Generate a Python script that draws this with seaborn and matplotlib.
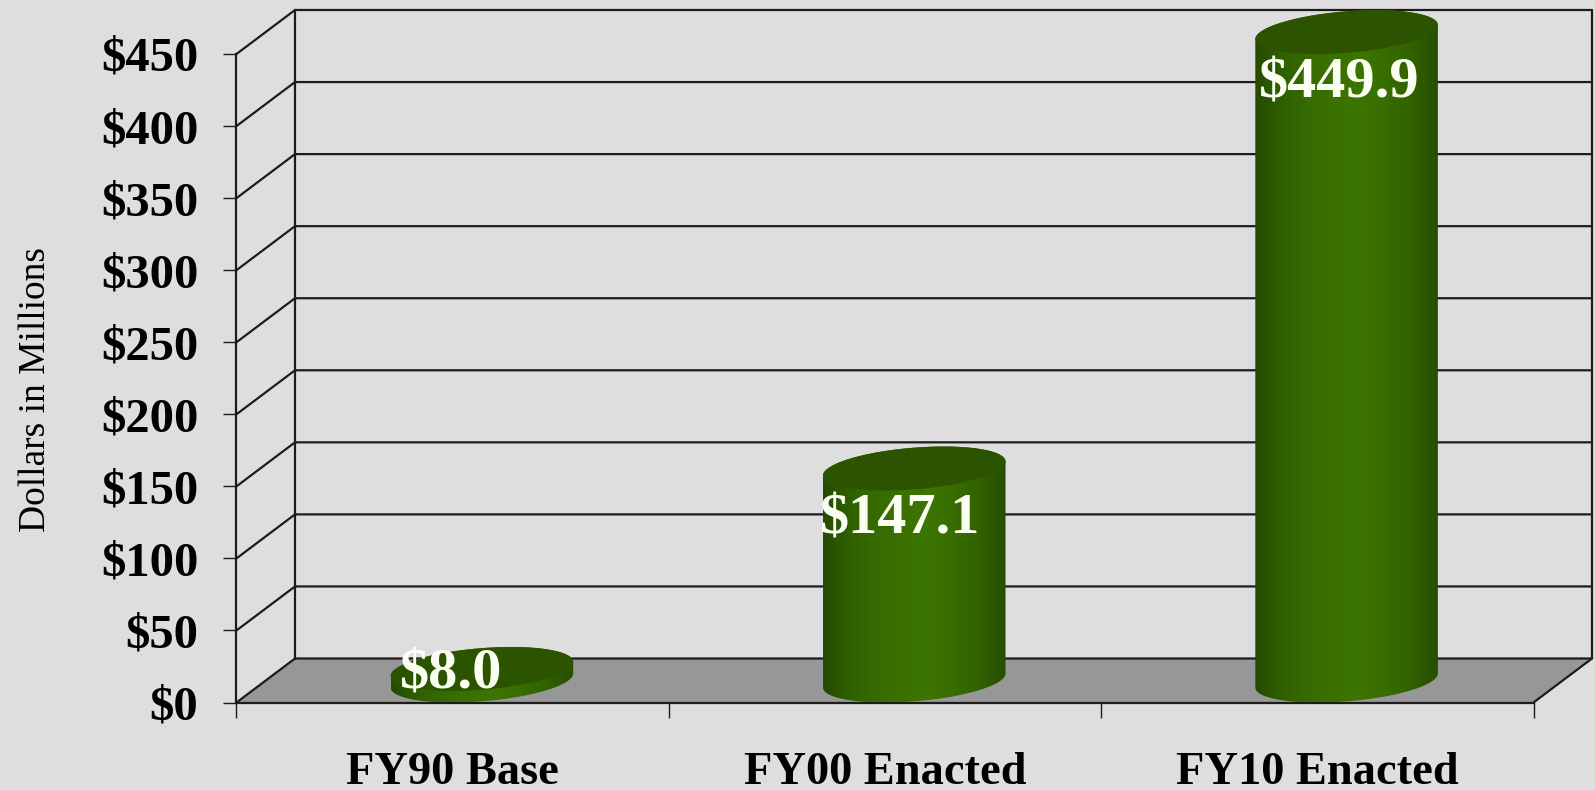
import numpy as np
import pandas as pd
import matplotlib
matplotlib.use('Agg')
import matplotlib.pyplot as plt
from matplotlib.colors import LinearSegmentedColormap
from matplotlib.patches import Polygon
import seaborn as sns

# chart data
years = ['FY90 Base', 'FY00 Enacted', 'FY10 Enacted']
funding = [8.0, 147.1, 449.9]
value_labels = ['$8.0', '$147.1', '$449.9']
y_ticks = [0, 50, 100, 150, 200, 250, 300, 350, 400, 450]
y_tick_labels = ['$0', '$50', '$100', '$150', '$200', '$250', '$300', '$350', '$400', '$450']

sns.set_theme(style='white')
plt.rcParams['font.family'] = ['Liberation Serif', 'DejaVu Serif']

bg_color = '#dedede'
line_color = '#1c1c1c'
line_w = 1.6
fig = plt.figure(figsize=(15.95, 7.90), dpi=100, facecolor=bg_color)
ax = fig.add_axes([236.5 / 1595, 87.5 / 790, 1297 / 1595, 648.5 / 790], facecolor='none')

plot_df = pd.DataFrame({'year': years, 'funding': funding})
sns.barplot(data=plot_df, x='year', y='funding', width=0.4, color='#3a7000', ax=ax)
ax.set_xlim(-0.5, 2.5)
ax.set_ylim(0, 450)

# 3d box depth, in data units
depth_x = 58.5 / (1297 / 3)
depth_y = 44 / (648.5 / 450)
x0, x1 = -0.5, 2.5

# floor and walls
ax.add_patch(Polygon([(x0, 0), (x1, 0), (x1 + depth_x, depth_y), (x0 + depth_x, depth_y)],
                     closed=True, facecolor='#979797', edgecolor='none', clip_on=False, zorder=1))
for tick in y_ticks:
    ax.plot([x0, x0 + depth_x, x1 + depth_x], [tick, tick + depth_y, tick + depth_y],
            color=line_color, lw=line_w, clip_on=False, zorder=2, solid_joinstyle='miter')
ax.plot([x0 + depth_x, x0 + depth_x], [depth_y, 450 + depth_y],
        color=line_color, lw=line_w, clip_on=False, zorder=2)
ax.plot([x1, x1 + depth_x, x1 + depth_x], [0, depth_y, 450 + depth_y],
        color=line_color, lw=line_w, clip_on=False, zorder=2)

# cylinders drawn on the positions the bars got from seaborn
body_cmap = LinearSegmentedColormap.from_list(
    'body', ['#264b00', '#305f00', '#366b00', '#3a7100', '#3c7500', '#386d00', '#326200', '#264d00'])
gradient = np.linspace(0, 1, 256).reshape(1, -1)
t = np.linspace(0, 2 * np.pi, 361)
half_w = 0.2
half_full = np.hypot(half_w, depth_x / 2)
t_edge = np.arctan2(depth_x / 2, half_w)

for bar, label, shift_x, shift_y in zip(ax.patches, value_labels, [-2, 15, 22], [16, -29, -29]):
    front_x = bar.get_x() + bar.get_width() / 2
    value = bar.get_height()
    bar.set_visible(False)
    cx = front_x + depth_x / 2

    # outline of the body, lower half of the base ellipse + upper half of the top ellipse
    t_low = np.linspace(t_edge + np.pi, t_edge + 2 * np.pi, 120)
    t_up = np.linspace(t_edge, t_edge + np.pi, 120)
    low_pts = np.column_stack([cx + half_w * np.cos(t_low) + depth_x / 2 * np.sin(t_low),
                               depth_y / 2 + depth_y / 2 * np.sin(t_low)])
    up_pts = np.column_stack([cx + half_w * np.cos(t_up) + depth_x / 2 * np.sin(t_up),
                              value + depth_y / 2 + depth_y / 2 * np.sin(t_up)])
    outline = Polygon(np.vstack([low_pts, up_pts]), closed=True, transform=ax.transData)

    img = ax.imshow(gradient, cmap=body_cmap, aspect='auto', interpolation='bilinear',
                    extent=[cx - half_full, cx + half_full, 0, value + depth_y],
                    zorder=3)
    img.set_clip_box(fig.bbox)
    img.set_clip_path(outline)

    # lid
    lid = np.column_stack([cx + half_w * np.cos(t) + depth_x / 2 * np.sin(t),
                           value + depth_y / 2 + depth_y / 2 * np.sin(t)])
    ax.add_patch(Polygon(lid, closed=True, facecolor='#2c5400', edgecolor='none',
                         clip_on=False, zorder=4))

    ax.annotate(label, xy=(front_x, value), xytext=(shift_x * 0.72, shift_y * 0.72),
                textcoords='offset points', ha='center', va='center', color='#fafff2',
                fontsize=42, fontweight='bold', zorder=5, annotation_clip=False)

ax.set_xlim(-0.5, 2.5)
ax.set_ylim(0, 450)

# axes
sns.despine(ax=ax, top=True, right=True)
for side in ['left', 'bottom']:
    ax.spines[side].set_color(line_color)
    ax.spines[side].set_linewidth(line_w)
    ax.spines[side].set_zorder(2.5)

ax.set_yticks(y_ticks)
ax.set_yticklabels(y_tick_labels, fontsize=35, fontweight='bold', color='black')
ax.tick_params(axis='y', which='major', left=True, length=9.4, width=1.0, color=line_color, pad=18)
ax.set_xticks([0, 1, 2])
ax.set_xticklabels(years, fontsize=33.4, fontweight='bold', color='black')
ax.set_xticks([-0.5, 0.5, 1.5, 2.5], minor=True)
ax.tick_params(axis='x', which='major', bottom=False, length=0, pad=36)
ax.tick_params(axis='x', which='minor', bottom=True, length=10.8, width=1.0, color=line_color)
ax.set_xlabel('')
ax.set_ylabel('Dollars in Millions', fontsize=27, color='black')
ax.yaxis.set_label_coords((53 - 236.5) / 1297, (702.5 - 389) / 648.5)

fig.savefig('out.png', dpi=100, facecolor=fig.get_facecolor())
